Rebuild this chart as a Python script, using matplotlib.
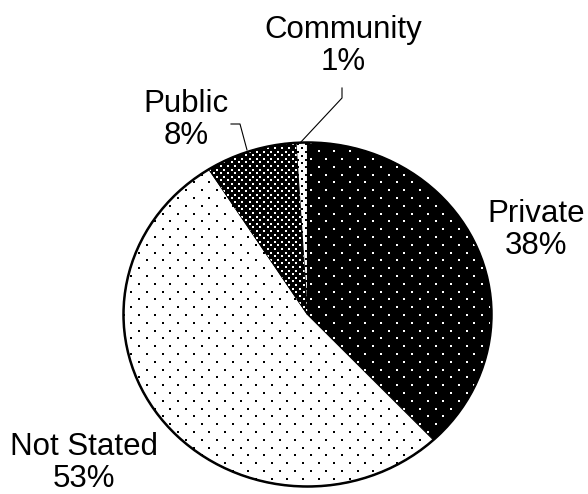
import numpy as np
import matplotlib
matplotlib.use("Agg")
import matplotlib.pyplot as plt
from matplotlib.patches import Ellipse

# sector shares, clockwise from 12 o'clock
labels = ["Private", "Not Stated", "Public", "Community"]
values = [38, 53, 8, 1]
pcts = ["38%", "53%", "8%", "1%"]

# fill / dot colour and dot spacing (px) for each wedge
faces = ["black", "white", "black", "white"]
dots = ["white", "black", "white", "black"]
steps = [7.8, 7.8, 3.6, 3.8]
dot_sz = [3.2, 3.2, 1.6, 1.8]

plt.rcParams["font.family"] = ["Liberation Sans", "DejaVu Sans"]

W, H = 588, 494
fig = plt.figure(figsize=(W / 100, H / 100), dpi=100)

# pie axes: slightly wider than tall, like the original
cx, cy, rx, ry = 307.5, 314.5, 184, 172
ax = fig.add_axes([(cx - rx) / W, (H - cy - ry) / H, 2 * rx / W, 2 * ry / H])
ax.axis("off")

wedges, _ = ax.pie(values, startangle=90, counterclock=False, radius=1,
                   colors=faces, wedgeprops=dict(linewidth=0))
ax.set_xlim(-1, 1)
ax.set_ylim(-1, 1)
ax.set_aspect("auto")

# dotted textures, one lattice per wedge, clipped to the wedge
for w, col, st, sz in zip(wedges, dots, steps, dot_sz):
    px, py = [], []
    for j, yy in enumerate(np.arange(0, 2 * ry + st, st)):
        off = st if j % 2 else 0
        for xx in np.arange(off, 2 * rx + 2 * st, 2 * st):
            px.append(xx / rx - 1)
            py.append(yy / ry - 1)
    sc = ax.scatter(px, py, s=sz, c=col, marker="s", linewidths=0, zorder=3)
    sc.set_clip_path(w)

# outline
for w in wedges:
    w.set_edgecolor("black")
    w.set_linewidth(0.8)
    w.set_zorder(2)
ax.add_patch(Ellipse((0, 0), 2, 2, fill=False, edgecolor="black",
                     linewidth=1.8, zorder=5, clip_on=False))

# labels and leader lines in pixel coordinates
ov = fig.add_axes([0, 0, 1, 1])
ov.set_xlim(0, W)
ov.set_ylim(H, 0)
ov.axis("off")
ov.patch.set_alpha(0)

label_pos = [(536, 230), (84, 463), (186, 120), (343, 46)]
for lab, pc, (lx, ly) in zip(labels, pcts, label_pos):
    ov.text(lx, ly, lab + "\n" + pc, ha="center", va="center",
            fontsize=22.5, linespacing=1.1)

ov.plot([342, 342, 300], [88, 98, 143], color="black", linewidth=0.8)
ov.plot([231, 240, 247], [124, 124, 150], color="black", linewidth=0.8)

fig.savefig("out.png", dpi=100)
